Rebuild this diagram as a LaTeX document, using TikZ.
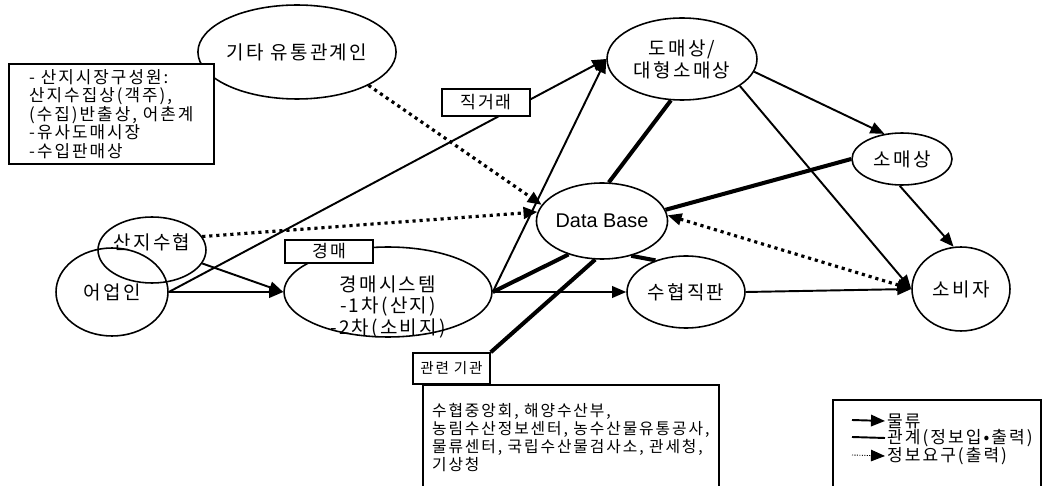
\documentclass[tikz,border=0pt]{standalone}
\usepackage{fontspec}
\setmainfont{Noto Sans CJK KR}[LetterSpace=12]
\newfontfamily\dbfont{Liberation Sans}
\usetikzlibrary{arrows.meta,shapes.geometric}

\begin{document}
\begin{tikzpicture}[
      x=0.02cm, y=-0.02cm,
      font={\fontsize{9}{10.2}\selectfont},
      ell/.style={ellipse, draw, line width=0.9pt, inner sep=0pt, align=center,
                  font={\fontsize{10.8}{12.5}\selectfont}},
      ltxt/.style={align=center, font={\fontsize{10.8}{12.5}\selectfont}},
      dbtxt/.style={font={\dbfont\fontsize{11.3}{13}\selectfont}},
      box/.style={draw, line width=0.9pt, fill=white, inner sep=0pt,
                  font={\fontsize{9.8}{12}\selectfont}},
      note/.style={draw, line width=0.9pt, fill=white, align=left,
                   inner xsep=4pt, inner ysep=3pt},
      bignote/.style={note, font={\fontsize{9.6}{10.6}\selectfont}},
      smallbox/.style={box, font={\fontsize{8.3}{11}\selectfont}},
      flow/.style={-{Triangle[length=2.8mm, width=2.3mm]}, line width=1.1pt},
      rel/.style={line width=2.3pt},
      info/.style={-{Triangle[length=2.8mm, width=2.3mm]}, line width=1.8pt,
                   dash pattern=on 1.8pt off 2.2pt},
      biinfo/.style={info, {Triangle[length=2.8mm, width=2.3mm]}-{Triangle[length=2.8mm, width=2.3mm]}},
      lgtxt/.style={anchor=west, inner sep=1pt, font={\fontsize{9.7}{12}\selectfont}},
    ]
    \useasboundingbox (0,0) rectangle (1049,486);

    % --- actors (ellipses) -------------------------------------------------
    \node[ell, minimum width=3.2cm, minimum height=1.88cm]  (gita)    at (297,52)  {기타 유통관계인};
    \node[ell, minimum width=3.0cm, minimum height=1.64cm]  (domae)   at (682,59)  {도매상/\\대형소매상};
    \node[ell, minimum width=2.0cm, minimum height=1.04cm]  (somae)   at (902,159) {소매상};
    \node[ell, minimum width=1.96cm, minimum height=1.68cm] (sobi)    at (961,289) {소비자};
    \node[ell, dbtxt, minimum width=2.2cm, minimum height=1.52cm] (db) at (602,221) {Data Base};
    \node[ell, minimum width=2.36cm, minimum height=1.44cm] (jikpan)  at (686,292) {수협직판};
    \node[ell, minimum width=4.16cm, minimum height=1.8cm,
          label={[ltxt, yshift=-0.3cm]center:{경매시스템\\-1차(산지)\\-2차(소비지)}}]
                                                             (auction) at (388,292) {};
    \node[ell, minimum width=2.16cm, minimum height=1.32cm,
          label={[ltxt, yshift=0.16cm]center:{산지수협}}]    (suhyup)  at (152,250) {};
    \node[ell, minimum width=2.24cm, minimum height=1.76cm] (fisher)  at (112,292) {어업인};

    % --- market members note, touching the top ellipse ---------------------
    \node[bignote, anchor=north west, minimum width=4.1cm] (market) at (8,63)
          {- 산지시장구성원:\\산지수집상(객주),\\(수집)반출상, 어촌계\\-유사도매시장\\-수입판매상};

    % --- physical flows ----------------------------------------------------
    \draw[flow] (fisher.east)   -- (auction.west);
    \draw[flow] (suhyup.-15)    -- (auction.west);
    \draw[flow] (fisher.east)   -- (domae.west);
    \draw[flow] (auction.east)  -- (domae.west);
    \draw[flow] (auction.east)  -- (jikpan.west);
    \draw[flow] (jikpan.east)   -- (sobi.west);
    \draw[flow] (domae.-10)     -- (somae.125);
    \draw[flow] (domae.-25)     -- (sobi.west);
    \draw[flow] (somae.-95)     -- (sobi.100);

    % --- relations (information in/out) ------------------------------------
    \draw[rel] (auction.east)   -- (db.225);
    \draw[rel] (db.80)          -- (domae.-105);
    \draw[rel] (somae.west)     -- (db.10);
    \draw[rel] (db.-50)         -- (jikpan.134);

    % --- information requests ----------------------------------------------
    \draw[info]   (gita.-25)    -- (db.165);
    \draw[info]   (suhyup.15)   -- (db.172);
    \draw[biinfo] (db.5)        -- (sobi.west);

    % --- channel labels on top of the lines ---------------------------------
    \node[box, minimum width=1.76cm, minimum height=0.54cm] (direct) at (486,102.5) {직거래};
    \node[box, minimum width=1.76cm, minimum height=0.46cm] (auclbl) at (329,251.5) {경매};

    % --- related institutions ----------------------------------------------
    \node[note, anchor=north west, minimum width=5.92cm, minimum height=2.12cm] (orgs) at (422,384)
          {수협중앙회, 해양수산부,\\농림수산정보센터, 농수산물유통공사,\\물류센터, 국립수산물검사소, 관세청,\\기상청};
    \node[smallbox, minimum width=1.54cm, minimum height=0.62cm] (related) at (451.5,368.5) {관련 기관};
    \draw[rel] (related.north east) -- (db.260);

    % --- legend --------------------------------------------------------------
    \node[draw, line width=0.9pt, anchor=north west, minimum width=4.16cm,
          minimum height=1.9cm] (legend) at (832,399) {};
    \coordinate (lgA) at (852,420);
    \coordinate (lgB) at (852,437);
    \coordinate (lgC) at (852,455);
    \node[lgtxt] (lgAt) at (885,421) {물류};
    \node[lgtxt] (lgBt) at (885,438) {관계(정보입•출력)};
    \node[lgtxt] (lgCt) at (885,456) {정보요구(출력)};
    \draw[flow] (lgA) -- (lgAt.west);
    \draw[line width=1.1pt] (lgB) -- (lgBt.west);
    \draw[-{Triangle[length=2.8mm, width=2.3mm]}, line width=0.5pt,
          dash pattern=on 0.6pt off 0.8pt] (lgC) -- (lgCt.west);
  \end{tikzpicture}
\end{document}
